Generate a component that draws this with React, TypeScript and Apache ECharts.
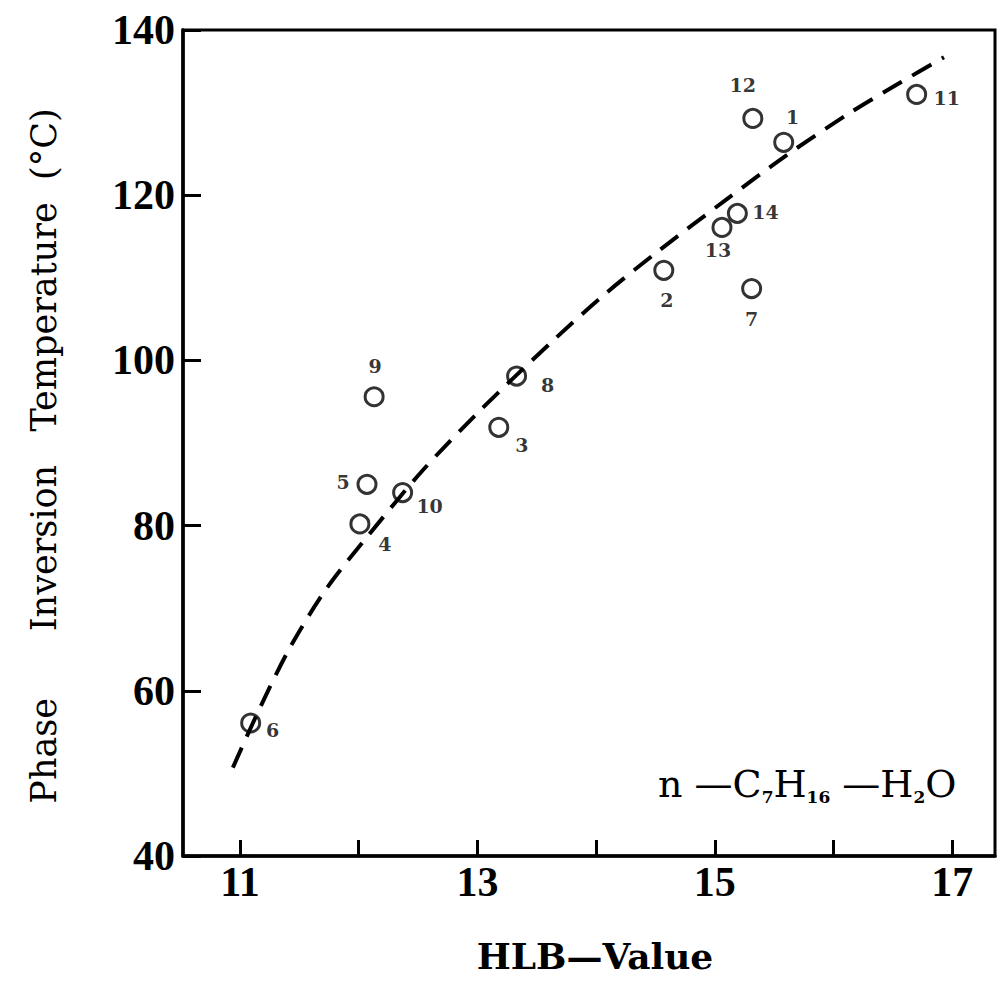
import React, { useEffect, useRef } from "react";
import * as echarts from "echarts";

// Point identifiers (sample numbers) and measured values
const pointIds = ["1", "2", "3", "4", "5", "6", "7", "8", "9", "10", "11", "12", "13", "14"];
const hlbValues = [15.58, 14.57, 13.18, 12.01, 12.07, 11.09, 15.31, 13.33, 12.13, 12.37, 16.7, 15.32, 15.06, 15.19];
const pitValues = [126.4, 110.9, 91.9, 80.2, 85.0, 56.1, 108.7, 98.1, 95.6, 84.0, 132.2, 129.3, 116.1, 117.8];

// Dashed trend curve
const curveHlb = [10.94, 11.17, 11.42, 11.73, 12.08, 12.54, 13.02, 13.66, 14.08, 14.53, 15.09, 15.6, 16.13, 16.57, 16.93];
const curvePit = [50.7, 58.0, 65.2, 72.4, 78.8, 86.7, 93.9, 102.7, 108.1, 113.3, 119.4, 124.8, 129.9, 133.7, 136.7];

// Axis ticks / labels
const xTickValues = [11, 12, 13, 14, 15, 16, 17];
const xLabelValues = [11, 13, 15, 17];
const yMin = 40;
const yMax = 140;
const yStep = 20;

// Texts
const xTitle = "HLB—Value";
const yTitle = "Phase      Inversion   Temperature  (°C)";

// Layout: label offsets (px) from each circle centre
const labelOffsets: Record<string, [number, number]> = {
  "1": [9, -25],
  "2": [3, 30],
  "3": [23, 18],
  "4": [25, 20],
  "5": [-24, -2],
  "6": [22, 7],
  "7": [0, 30],
  "8": [31, 9],
  "9": [1, -31],
  "10": [27, 13],
  "11": [30, 4],
  "12": [-10, -33],
  "13": [-4, 23],
  "14": [28, -1],
};

export default function App() {
  const ref = useRef<HTMLDivElement>(null);
  useEffect(() => {
    const chart = echarts.init(ref.current as HTMLDivElement, null, { renderer: "svg" });
    const scatterData = pointIds.map((id, i) => ({
      name: id,
      value: [hlbValues[i], pitValues[i]],
      label: { offset: labelOffsets[id] },
    }));
    const curveData = curveHlb.map((x, i) => [x, curvePit[i]]);
    chart.setOption({
      animation: false,
      backgroundColor: "#fff",
      grid: {
        left: 183,
        right: 12,
        top: 30,
        bottom: 127,
        show: true,
        borderColor: "#000",
        borderWidth: 3,
      },
      xAxis: {
        type: "value",
        min: 10.52,
        max: 17.36,
        name: xTitle,
        nameLocation: "middle",
        nameGap: 82,
        nameTextStyle: { fontFamily: "DejaVu Serif", fontSize: 36, fontWeight: "bold", color: "#000", padding: [0, 0, 0, 12] },
        axisLine: { show: true, onZero: false, lineStyle: { color: "#000", width: 3.5 } },
        axisTick: { show: true, inside: true, length: 16, lineStyle: { color: "#000", width: 3 }, customValues: xTickValues },
        axisLabel: {
          customValues: xLabelValues,
          fontFamily: "Liberation Serif",
          fontWeight: "bold",
          fontSize: 42,
          color: "#000",
          margin: 5,
        },
        splitLine: { show: false },
      },
      yAxis: {
        type: "value",
        min: yMin,
        max: yMax,
        interval: yStep,
        axisLine: { show: true, lineStyle: { color: "#000", width: 3.5 } },
        axisTick: { show: true, inside: true, length: 18, lineStyle: { color: "#000", width: 3 } },
        axisLabel: {
          fontFamily: "Liberation Serif",
          fontWeight: "bold",
          fontSize: 42,
          color: "#000",
          margin: 8,
        },
        splitLine: { show: false },
      },
      series: [
        {
          type: "line",
          data: curveData,
          smooth: 0.3,
          symbol: "none",
          lineStyle: { color: "#000", width: 4, type: [22, 12] },
          z: 2,
        },
        {
          type: "scatter",
          data: scatterData,
          symbol: "circle",
          symbolSize: 18,
          itemStyle: { color: "rgba(255,255,255,0)", borderColor: "#000", borderWidth: 3 },
          label: {
            show: true,
            position: "inside",
            formatter: "{b}",
            fontFamily: "DejaVu Serif",
            fontWeight: "bold",
            fontSize: 19,
            color: "#000",
            textBorderWidth: 0,
          },
          z: 3,
        },
      ],
      graphic: [
        {
          type: "text",
          x: 44,
          y: 456,
          rotation: Math.PI / 2,
          style: {
            text: yTitle,
            fontFamily: "DejaVu Serif",
            fontSize: 35,
            fill: "#000",
            align: "center",
            verticalAlign: "middle",
          },
        },
        {
          type: "text",
          left: 658,
          top: 765,
          style: {
            text: "{m|n —C}{s|7}{m|H}{s|16}{m| —H}{s|2}{m|O}",
            rich: {
              m: { fontFamily: "DejaVu Serif", fontSize: 38, color: "#000", lineHeight: 42 },
              s: {
                fontFamily: "DejaVu Serif",
                fontWeight: "bold",
                fontSize: 17,
                color: "#000",
                lineHeight: 17,
                verticalAlign: "bottom",
              },
            },
          },
        },
      ],
    });
    return () => chart.dispose();
  }, []);
  return (
    <div
      ref={ref}
      style={{ position: "fixed", left: 0, top: 0, width: 1007, height: 983, background: "#fff" }}
    />
  );
}
